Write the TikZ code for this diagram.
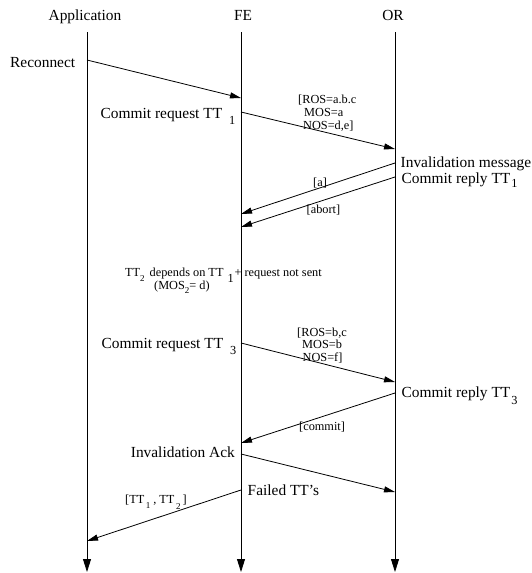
\documentclass[tikz,border=0pt]{standalone}
\usepackage{fontspec}
\setmainfont{Liberation Serif}
\usetikzlibrary{arrows.meta}
\newcommand\mainsz{\fontsize{15.4}{18}\selectfont}
\newcommand\smlsz{\fontsize{12.3}{13}\selectfont}
\newcommand\tinysz{\fontsize{9}{10}\selectfont}
\begin{document}
\begin{tikzpicture}[x=1pt,y=-1pt,
  lbl/.style={font=\mainsz, inner sep=0pt},
  sml/.style={font=\smlsz, inner sep=0pt},
  msg/.style={-{Triangle[length=11pt,width=6pt]}, line width=0.8pt},
  life/.style={-{Triangle[length=13pt,width=8pt]}, line width=0.8pt}]
\useasboundingbox (0,0) rectangle (531,573);

% headers
\node[lbl, anchor=base] (happ) at (85,20) {Application};
\node[lbl, anchor=base] (hfe) at (243,20) {FE};
\node[lbl, anchor=base] (hor) at (393,20) {OR};

% lifelines
\coordinate (appT) at (87,32);  \coordinate (appB) at (87,572);
\coordinate (feT) at (241,32);  \coordinate (feB) at (241,572);
\coordinate (orT) at (395,32);  \coordinate (orB) at (395,572);
\draw[life] (appT) -- (appB);
\draw[life] (feT) -- (feB);
\draw[life] (orT) -- (orB);

% message end points
\coordinate (m1s) at (87,60);   \coordinate (m1e) at (241,98);
\coordinate (m2s) at (241,112); \coordinate (m2e) at (395,149);
\coordinate (m3s) at (395,163); \coordinate (m3e) at (241,214);
\coordinate (m4s) at (395,177); \coordinate (m4e) at (241,227);
\coordinate (m5s) at (241,343); \coordinate (m5e) at (395,382);
\coordinate (m6s) at (395,393); \coordinate (m6e) at (241,443);
\coordinate (m7s) at (241,454); \coordinate (m7e) at (395,492);
\coordinate (m8s) at (241,490); \coordinate (m8e) at (87,541);

\draw[msg] (m1s) -- (m1e);
\draw[msg] (m2s) -- (m2e);
\draw[msg] (m3s) -- (m3e);
\draw[msg] (m4s) -- (m4e);
\draw[msg] (m5s) -- (m5e);
\draw[msg] (m6s) -- (m6e);
\draw[msg] (m7s) -- (m7e);
\draw[msg] (m8s) -- (m8e);

% main labels
\node[lbl, anchor=base west] (lrec) at (10,67) {Reconnect};
\node[lbl, anchor=base west] (lcr1) at (100.5,118) {Commit request TT\hspace{7pt}\raisebox{-6pt}{\smlsz 1}};
\node[lbl, anchor=base west] (linv) at (400.5,167) {Invalidation message};
\node[lbl, anchor=base west] (lrep1) at (401.5,183) {Commit reply TT\hspace{1pt}\raisebox{-4pt}{\smlsz 1}};
\node[lbl, anchor=base west] (lcr3) at (101.5,348) {Commit request TT\hspace{7pt}\raisebox{-6pt}{\smlsz 3}};
\node[lbl, anchor=base west] (lrep3) at (401.5,397.5) {Commit reply TT\hspace{1pt}\raisebox{-7pt}{\smlsz 3}};
\node[lbl, anchor=base east] (lack) at (235,457.5) {Invalidation Ack};
\node[lbl, anchor=base west] (lfail) at (247.5,495.5) {Failed TT’s};

% small labels
\node[sml, anchor=base west] (ros1) at (298,103.5) {[ROS=a.b.c};
\node[sml, anchor=base west] (mos1) at (304,116.5) {MOS=a};
\node[sml, anchor=base west] (nos1) at (303,129.5) {NOS=d,e]};
\node[sml, anchor=base west] (la) at (313,186.5) {[a]};
\node[sml, anchor=base west] (labort) at (306.5,213.5) {[abort]};
\node[sml, anchor=base west] (ltt2) at (125,276) {TT\raisebox{-5pt}{\tinysz 2}\hspace{5pt}depends on TT\hspace{4pt}\raisebox{-6pt}{1}\hspace{1pt}+\hspace{3pt}request not sent};
\node[sml, anchor=base west] (lmos2) at (154,289) {(MOS\raisebox{-4pt}{\tinysz 2}= d)};
\node[sml, anchor=base west] (ros3) at (297,336) {[ROS=b,c};
\node[sml, anchor=base west] (mos3) at (302,348.5) {MOS=b};
\node[sml, anchor=base west] (nos3) at (302.5,361) {NOS=f]};
\node[sml, anchor=base west] (lcommit) at (299,430) {[commit]};
\node[sml, anchor=base west] (lfailed) at (125,503) {[TT\hspace{1.5pt}\raisebox{-5.5pt}{\tinysz 1}\hspace{3pt}, TT\hspace{1.5pt}\raisebox{-6.5pt}{\tinysz 2}\hspace{2pt}]};
\end{tikzpicture}
\end{document}
